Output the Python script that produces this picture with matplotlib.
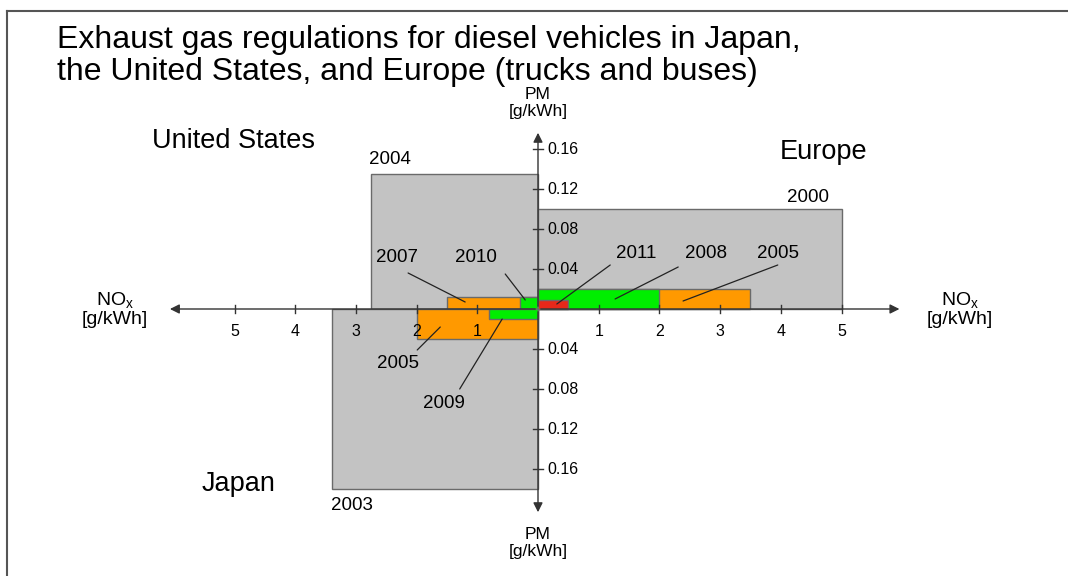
import matplotlib
matplotlib.use("Agg")
import matplotlib.pyplot as plt
from matplotlib.lines import Line2D

plt.rcParams['font.family'] = ['Liberation Sans', 'DejaVu Sans']

# US (upper left): NOx to the left, PM up
us_years = ['2004', '2007', '2010']
us_nox = [2.75, 1.5, 0.3]
us_pm = [0.135, 0.012, 0.012]
us_colors = ['#c3c3c3', '#ff9900', '#00ee00']

# Europe (upper right): NOx to the right, PM up
eu_years = ['2000', '2005', '2008', '2011']
eu_nox = [5.0, 3.5, 2.0, 0.5]
eu_pm = [0.10, 0.02, 0.02, 0.009]
eu_colors = ['#c3c3c3', '#ff9900', '#00ee00', '#e8281a']

# Japan (lower left): NOx to the left, PM down
jp_years = ['2003', '2005', '2009']
jp_nox = [3.4, 2.0, 0.8]
jp_pm = [0.18, 0.03, 0.01]
jp_colors = ['#c3c3c3', '#ff9900', '#00ee00']

nox_ticks = [1, 2, 3, 4, 5]
pm_ticks = [0.04, 0.08, 0.12, 0.16]

fig = plt.figure(figsize=(10.68, 5.76), dpi=100)
ax = fig.add_axes([0, 0, 1, 1])
ax.set_xlim(-538 / 60.7, 530 / 60.7)
ax.set_ylim(-0.267, 0.309)
ax.axis('off')

edge = '#6a6a6a'
for n, p, c in zip(us_nox, us_pm, us_colors):
    ax.bar(-n, p, width=n, bottom=0, align='edge', color=c, edgecolor=edge, linewidth=1, zorder=2)
for n, p, c in zip(eu_nox, eu_pm, eu_colors):
    ax.bar(0, p, width=n, bottom=0, align='edge', color=c, edgecolor=edge, linewidth=1, zorder=2)
for n, p, c in zip(jp_nox, jp_pm, jp_colors):
    ax.bar(-n, p, width=n, bottom=-p, align='edge', color=c, edgecolor=edge, linewidth=1, zorder=2)

# axes with arrows
axc = '#333333'
arr = dict(arrowstyle='-|>', color=axc, lw=1, mutation_scale=14)
ax.annotate('', xy=(-6.11, 0), xytext=(0, 0), arrowprops=arr, zorder=3)
ax.annotate('', xy=(6.0, 0), xytext=(0, 0), arrowprops=arr, zorder=3)
ax.annotate('', xy=(0, 0.179), xytext=(0, 0), arrowprops=arr, zorder=3)
ax.annotate('', xy=(0, -0.206), xytext=(0, 0), arrowprops=arr, zorder=3)

# ticks
for t in nox_ticks:
    for s in (-1, 1):
        ax.plot([s * t, s * t], [-0.004, 0.004], color=axc, lw=1, zorder=3)
        ax.text(s * t, -0.022, str(t), ha='center', va='center', fontsize=11.5, zorder=4)
for t in pm_ticks:
    for s in (-1, 1):
        ax.plot([-0.08, 0.08], [s * t, s * t], color=axc, lw=1, zorder=3)
        ax.text(0.16, s * t, f'{t:.2f}', ha='left', va='center', fontsize=11.5, zorder=4)

# axis labels
ax.text(0, 0.206, 'PM\n[g/kWh]', ha='center', va='center', fontsize=12.5, linespacing=1.1)
ax.text(0, -0.234, 'PM\n[g/kWh]', ha='center', va='center', fontsize=12.5, linespacing=1.1)
nox_lab = 'NO$_{\\mathregular{x}}$\n[g/kWh]'
ax.text(-6.97, 0, nox_lab, ha='center', va='center', fontsize=14, linespacing=1.0)
ax.text(6.95, 0, nox_lab, ha='center', va='center', fontsize=14, linespacing=1.0)

# year labels
yr = dict(ha='center', va='center', fontsize=13.5, zorder=5)
ax.text(-2.44, 0.149, us_years[0], **yr)
ax.text(4.45, 0.112, eu_years[0], **yr)
ax.text(-3.06, -0.196, jp_years[0], **yr)

lead = dict(arrowstyle='-', color='#222222', lw=0.9, shrinkA=0, shrinkB=0)
ax.text(-2.32, 0.051, us_years[1], **yr)
ax.annotate('', xy=(-1.20, 0.007), xytext=(-2.14, 0.036), arrowprops=lead, zorder=5)
ax.text(-1.02, 0.051, us_years[2], **yr)
ax.annotate('', xy=(-0.21, 0.009), xytext=(-0.54, 0.035), arrowprops=lead, zorder=5)
ax.text(1.61, 0.055, eu_years[3], **yr)
ax.annotate('', xy=(0.31, 0.005), xytext=(1.19, 0.044), arrowprops=lead, zorder=5)
ax.text(2.77, 0.055, eu_years[2], **yr)
ax.annotate('', xy=(1.27, 0.010), xytext=(2.31, 0.042), arrowprops=lead, zorder=5)
ax.text(3.95, 0.055, eu_years[1], **yr)
ax.annotate('', xy=(2.39, 0.008), xytext=(3.95, 0.044), arrowprops=lead, zorder=5)
ax.text(-2.31, -0.054, jp_years[1], **yr)
ax.annotate('', xy=(-1.61, -0.018), xytext=(-1.99, -0.041), arrowprops=lead, zorder=5)
ax.text(-1.55, -0.094, jp_years[2], **yr)
ax.annotate('', xy=(-0.59, -0.010), xytext=(-1.29, -0.080), arrowprops=lead, zorder=5)

# region labels
ax.text(-5.02, 0.168, 'United States', ha='center', va='center', fontsize=19.5)
ax.text(4.71, 0.157, 'Europe', ha='center', va='center', fontsize=19.5)
ax.text(-4.94, -0.175, 'Japan', ha='center', va='center', fontsize=19.5)

# title
fig.text(57 / 1068, 1 - 25 / 576,
         'Exhaust gas regulations for diesel vehicles in Japan,\n'
         'the United States, and Europe (trucks and buses)',
         ha='left', va='top', fontsize=23, linespacing=1.08)

# frame lines
fig.add_artist(Line2D([7 / 1068, 7 / 1068], [0, 1 - 11 / 576], color='#555555', lw=1.5))
fig.add_artist(Line2D([7 / 1068, 1], [1 - 11 / 576, 1 - 11 / 576], color='#555555', lw=1.5))

fig.savefig('out.png', dpi=100)
